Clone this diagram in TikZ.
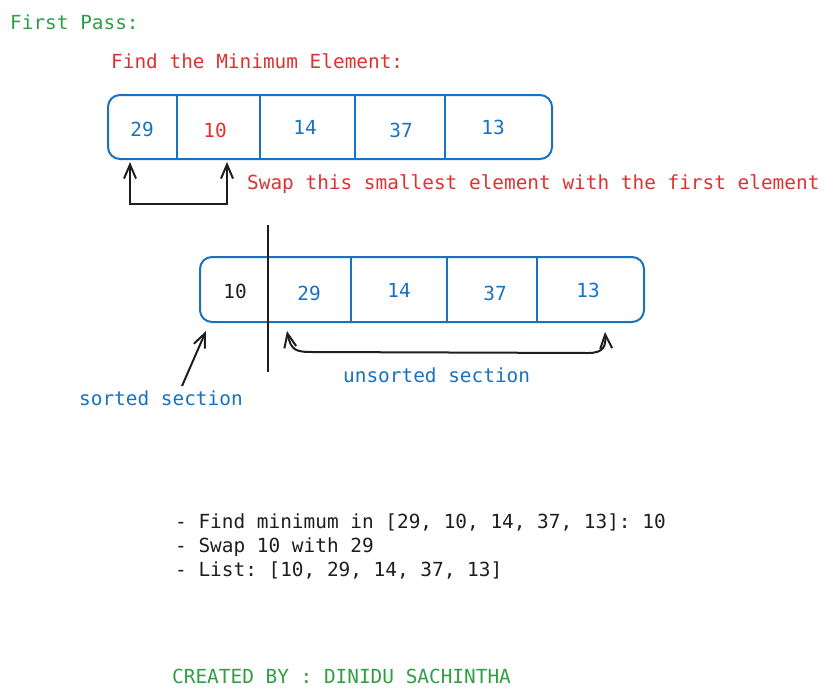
\documentclass[tikz,border=0pt]{standalone}
\usepackage{fontspec}
\setmonofont{DejaVu Sans Mono}
\usepackage{tikz}
\usetikzlibrary {arrows.meta}
\usetikzlibrary{calc}
\definecolor{exblue}{HTML}{1971C2}
\definecolor{exred}{HTML}{E03131}
\definecolor{exgreen}{HTML}{2F9E44}
\definecolor{exblack}{HTML}{1E1E1E}

\begin{document}
\begin{tikzpicture}[x=1pt, y=-1pt,
	txt/.style={anchor=base west, inner sep=0, font=\fontsize{19.4}{24}\selectfont\ttfamily},
	num/.style={anchor=base, inner sep=0, font=\fontsize{19.4}{24}\selectfont\ttfamily},
	arr/.style={exblack, line width=2pt, -{Straight Barb[length=14pt, width=12pt]}},
	arrboth/.style={exblack, line width=2pt, {Straight Barb[length=14pt, width=12pt]}-{Straight Barb[length=14pt, width=12pt]}},
	box/.style={exblue, line width=2pt, rounded corners=12pt}]
	\useasboundingbox (0, 0) rectangle (830, 697);

	\node[txt, exgreen] (pass) at (10, 29) {First Pass:};
	\node[txt, exred] (find) at (111, 68) {Find the Minimum Element:};

	% array before the swap
	\draw[box] (108, 95) rectangle (552, 159);
	\foreach \x in {177, 260, 355, 445}
		\draw[exblue, line width=2pt] (\x, 95) -- (\x, 159);
	\node[num, exblue] (a1) at (142, 136) {29};
	\node[num, exred] (a2) at (215, 137) {10};
	\node[num, exblue] (a3) at (305, 134) {14};
	\node[num, exblue] (a4) at (401, 137) {37};
	\node[num, exblue] (a5) at (493, 134) {13};

	\coordinate (swapL) at (130, 162);
	\coordinate (swapR) at (227, 162);
	\draw[arrboth] (swapL) -- ++(0, 42) -| (swapR);
	\node[txt, exred] (swap) at (247, 189) {Swap this smallest element with the first element};

	% array after the swap
	\draw[box] (200, 257) rectangle (644, 322);
	\foreach \x in {351, 447, 537}
		\draw[exblue, line width=2pt] (\x, 257) -- (\x, 322);
	\coordinate (cutT) at (268, 225);
	\coordinate (cutB) at (268, 372);
	\draw[exblack, line width=2pt] (cutT) -- (cutB);
	\node[num, exblack] (b1) at (235, 298) {10};
	\node[num, exblue] (b2) at (309, 300) {29};
	\node[num, exblue] (b3) at (399, 297) {14};
	\node[num, exblue] (b4) at (495, 300) {37};
	\node[num, exblue] (b5) at (588, 297) {13};

	\coordinate (sortTail) at (182, 386);
	\coordinate (sortTip) at (206, 331);
	\draw[arr] (sortTail) -- (sortTip);
	\node[txt, exblue] (sorted) at (79, 405) {sorted section};

	\coordinate (unsL) at (287, 331);
	\coordinate (unsR) at (605, 332);
	\draw[arrboth] (unsL) .. controls (291, 351) and (296, 352) .. (314, 352) -- (588, 353) .. controls (604, 353) and (606, 346) .. (unsR);
	\node[txt, exblue] (unsorted) at (343, 382) {unsorted section};

	% summary
	\node[txt, exblack] (step1) at (175, 528) {- Find minimum in [29, 10, 14, 37, 13]: 10};
	\node[txt, exblack] (step2) at (175, 552) {- Swap 10 with 29};
	\node[txt, exblack] (step3) at (175, 576) {- List: [10, 29, 14, 37, 13]};

	\node[txt, exgreen] (credit) at (172, 683) {CREATED BY : DINIDU SACHINTHA};

\end{tikzpicture}
\end{document}
